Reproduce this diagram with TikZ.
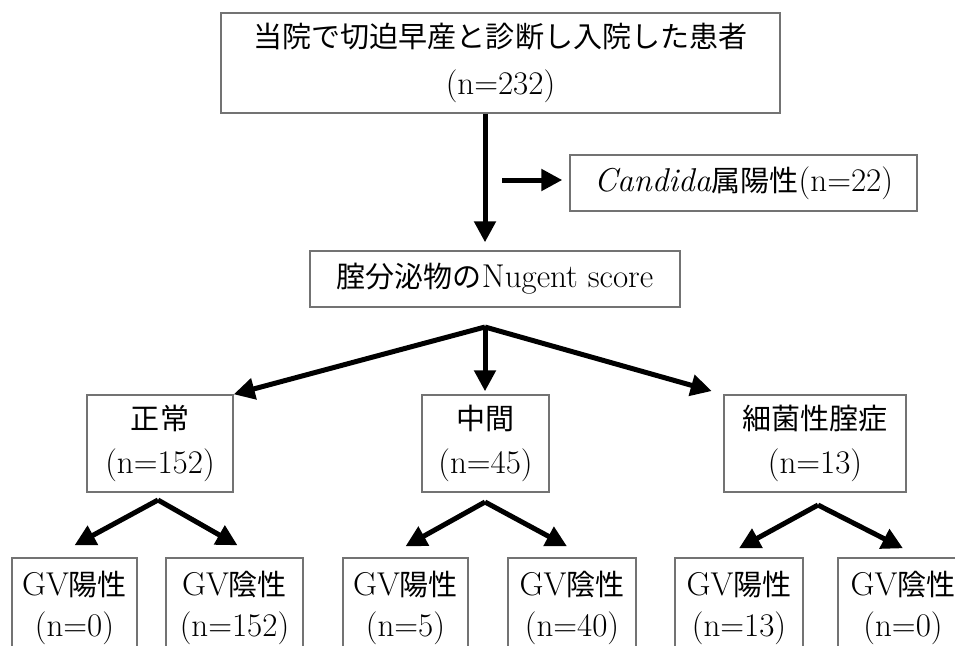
\documentclass[tikz,border=0pt]{standalone}
\usepackage{fontspec}
\newfontfamily\cjk{Noto Sans CJK JP}[Scale=0.88]
\usetikzlibrary{arrows.meta}
\newcommand{\jp}[1]{{\cjk #1}}
\begin{document}
\begin{tikzpicture}[x=1pt,y=-1pt,
  box/.style={draw=black!55,line width=1.4pt,align=center,inner sep=0pt,
    font=\fontsize{33}{44}\selectfont},
  lbox/.style={box,minimum height=97pt},
  gbox/.style={box,minimum height=100pt,font=\fontsize{33}{41}\selectfont},
  arr/.style={line width=5pt,-{Triangle[length=21pt,width=21pt]}}]
\useasboundingbox (0,0) rectangle (955,645);
\clip (0,0) rectangle (955,645);
\fill[white] (0,0) rectangle (955,645);
% level 0
\node[box,minimum width=559pt,minimum height=100pt,font=\fontsize{33}{47}\selectfont] (top) at (500.5,63)
  {\jp{当院で切迫早産と診断し入院した患者}\\(n=232)};
\node[box,minimum width=347pt,minimum height=56pt] (cand) at (743.5,183)
  {\textit{Candida}\jp{属陽性}(n=22)};
\node[box,minimum width=370pt,minimum height=56pt] (nug) at (495,279)
  {\jp{腟分泌物の}Nugent score};
% level 2
\node[lbox,minimum width=146pt] (n1) at (160,443.5) {\jp{正常}\\(n=152)};
\node[lbox,minimum width=127pt] (n2) at (485.5,443.5) {\jp{中間}\\(n=45)};
\node[lbox,minimum width=182pt] (n3) at (815,443.5) {\jp{細菌性腟症}\\(n=13)};
% level 3
\node[gbox,minimum width=125pt] (b1) at (74.5,608) {GV\jp{陽性}\\(n=0)};
\node[gbox,minimum width=137pt] (b2) at (234.5,608) {GV\jp{陰性}\\(n=152)};
\node[gbox,minimum width=125pt] (b3) at (405.5,608) {GV\jp{陽性}\\(n=5)};
\node[gbox,minimum width=128pt] (b4) at (572,608) {GV\jp{陰性}\\(n=40)};
\node[gbox,minimum width=128pt] (b5) at (739,608) {GV\jp{陽性}\\(n=13)};
\node[gbox,minimum width=130pt] (b6) at (903,608) {GV\jp{陰性}\\(n=0)};
% connectors
\coordinate (a1) at (485,327);
\coordinate (cs) at (502,180);
\coordinate (c1) at (158,500);
\coordinate (c2) at (485,502);
\coordinate (c3) at (818,505);
\draw[arr,shorten >=8pt] (top.south -| a1) -- (nug.north -| a1);
\draw[arr,shorten >=7pt] (cs) -- (cs -| cand.west);
\draw[arr] (a1) -- (n1.north east);
\draw[arr,shorten >=3pt] (a1) -- (n2.north -| a1);
\draw[arr,shorten >=12pt] (a1) -- (n3.north west);
\draw[arr] (c1) -- ([yshift=12pt]b1.north);
\draw[arr] (c1) -- ([yshift=12pt,xshift=3pt]b2.north);
\draw[arr] (c2) -- ([yshift=11pt]b3.north);
\draw[arr] (c2) -- ([yshift=11pt,xshift=-5pt]b4.north);
\draw[arr] (c3) -- ([yshift=9pt]b5.north);
\draw[arr] (c3) -- ([yshift=9pt]b6.north);
\end{tikzpicture}
\end{document}
